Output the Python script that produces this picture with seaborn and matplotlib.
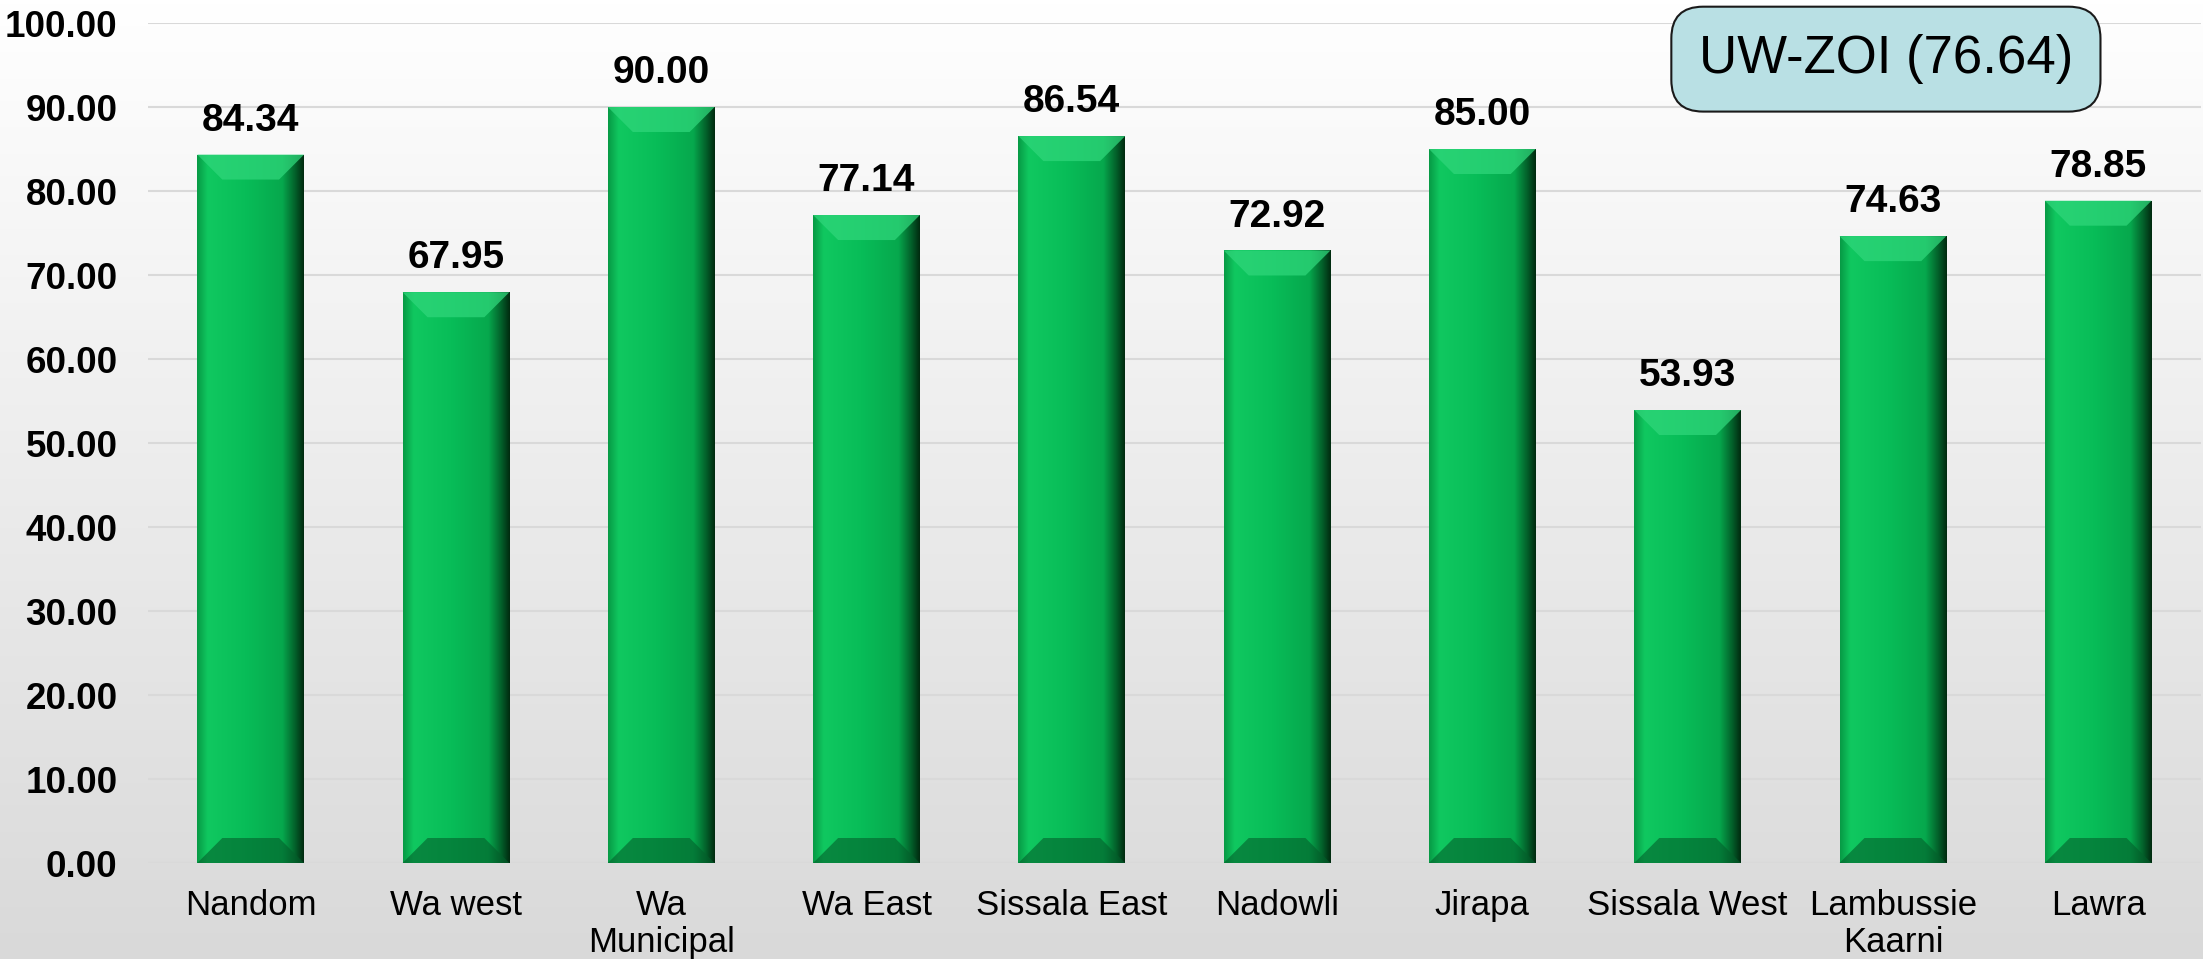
import numpy as np
import pandas as pd
import matplotlib
matplotlib.use("Agg")
import matplotlib.pyplot as plt
import seaborn as sns
from matplotlib.patches import Polygon
from matplotlib.colors import LinearSegmentedColormap

districts = ["Nandom", "Wa west", "Wa\nMunicipal", "Wa East", "Sissala East",
             "Nadowli", "Jirapa", "Sissala West", "Lambussie\nKaarni", "Lawra"]
scores = [84.34, 67.95, 90.00, 77.14, 86.54, 72.92, 85.00, 53.93, 74.63, 78.85]
yticks = [0, 10, 20, 30, 40, 50, 60, 70, 80, 90, 100]
box_text = "UW-ZOI (76.64)"

sns.set_theme(style="white")
plt.rcParams["font.family"] = ["Liberation Sans", "DejaVu Sans"]
plt.rcParams["text.color"] = "black"
plt.rcParams["xtick.color"] = "black"
plt.rcParams["ytick.color"] = "black"

df = pd.DataFrame({"district": districts, "score": scores})

fig = plt.figure(figsize=(22.03, 9.59), dpi=100)

# background gradient
bg = fig.add_axes([0, 0, 1, 1], zorder=-10)
grad = np.linspace(1.0, 0.0, 256).reshape(-1, 1)
bg_cmap = LinearSegmentedColormap.from_list("bg", ["#d9d9d9", "#ffffff"])
bg.imshow(grad, aspect="auto", cmap=bg_cmap, extent=[0, 1, 0, 1], origin="upper")
bg.set_axis_off()

ax = fig.add_axes([0.0672, 0.1001, 0.9318, 0.8759])
ax.set_facecolor("none")

sns.barplot(data=df, x="district", y="score", color="#06b853", width=0.52,
            saturation=1, ax=ax, zorder=3, edgecolor="none")

ax.set_ylim(0, 100)
ax.set_xlim(-0.5, len(districts) - 0.5)
ax.set_yticks(yticks)
ax.set_yticklabels([f"{v:.2f}" for v in yticks], fontsize=26.5, fontweight="bold",
                   color="black")
ax.tick_params(axis="y", pad=22, length=0)
ax.tick_params(axis="x", pad=19, length=0, labelsize=25, labelcolor="black")
ax.set_xlabel("")
ax.set_ylabel("")
for s in ax.spines.values():
    s.set_visible(False)
ax.yaxis.grid(True, color="#d9d9d9", linewidth=1.5, zorder=0)
ax.set_axisbelow(True)
for lbl in ax.get_xticklabels():
    lbl.set_linespacing(1.12)

# bevel decoration derived from bar geometry
side_cmap = LinearSegmentedColormap.from_list(
    "side", [(0.0, "#079a45"), (0.10, "#10c860"), (0.45, "#08bd58"),
             (0.80, "#06a84d"), (0.92, "#03602a"), (1.0, "#012a10")])
fig.canvas.draw()
trans = ax.transData
inv = trans.inverted()
for bar in ax.patches:
    x0, y0 = bar.get_x(), bar.get_y()
    w, h = bar.get_width(), bar.get_height()
    gimg = np.linspace(0, 1, 256).reshape(1, -1)
    im = ax.imshow(gimg, aspect="auto", cmap=side_cmap,
                   extent=[x0, x0 + w, y0, y0 + h], zorder=3.5)
    im.set_clip_path(bar)
    px0 = trans.transform((x0, y0))
    bev = 25
    dx = (inv.transform((px0[0] + bev, px0[1]))[0] - x0)
    dy = (inv.transform((px0[0], px0[1] + bev))[1] - y0)
    top = Polygon([(x0, y0 + h), (x0 + w, y0 + h), (x0 + w - dx, y0 + h - dy),
                   (x0 + dx, y0 + h - dy)], closed=True,
                  facecolor="#2fd67a", edgecolor="none", alpha=0.75, zorder=4)
    ax.add_patch(top)
    bot = Polygon([(x0, y0), (x0 + w, y0), (x0 + w - dx, y0 + dy),
                   (x0 + dx, y0 + dy)], closed=True,
                  facecolor="#035f2b", edgecolor="none", alpha=0.6, zorder=4)
    ax.add_patch(bot)
    ax.text(x0 + w / 2, y0 + h + 1.9, f"{h:.2f}", ha="center", va="bottom",
            fontsize=28, fontweight="bold", color="black", zorder=5)

# annotation box
ax.text(0.8466, 0.957, box_text, transform=ax.transAxes, ha="center", va="center",
        fontsize=38, color="black", zorder=6,
        bbox=dict(boxstyle="round,pad=0.52,rounding_size=0.6", facecolor="#b9e0e4",
                  edgecolor="#1a1a1a", linewidth=1.5))

fig.savefig("out.png", dpi=100)
